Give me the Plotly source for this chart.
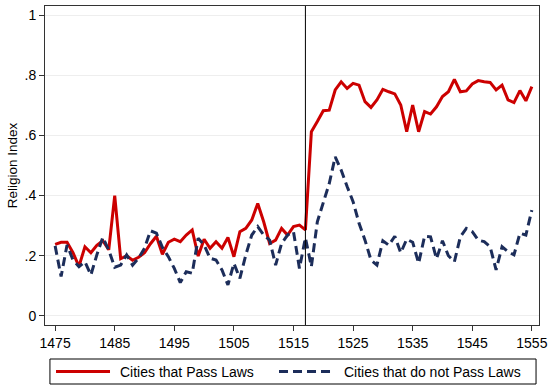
import plotly.graph_objects as go

years = list(range(1475, 1556))

pass_laws = [
    0.238, 0.245, 0.245, 0.21, 0.165, 0.23, 0.21, 0.235, 0.25, 0.22,
    0.40, 0.19, 0.20, 0.185, 0.195, 0.21, 0.24, 0.265, 0.205, 0.245,
    0.255, 0.247, 0.269, 0.286, 0.199, 0.255, 0.225, 0.247, 0.225, 0.261,
    0.197, 0.28, 0.291, 0.319, 0.374, 0.313, 0.241, 0.252, 0.291, 0.269,
    0.297, 0.302, 0.286, 0.612, 0.646, 0.682, 0.684, 0.751, 0.778, 0.756,
    0.773, 0.767, 0.712, 0.693, 0.718, 0.753, 0.745, 0.738, 0.701, 0.612,
    0.701, 0.612, 0.679, 0.671, 0.695, 0.729, 0.745, 0.786, 0.745, 0.748,
    0.771, 0.782, 0.778, 0.776, 0.751, 0.767, 0.718, 0.709, 0.749, 0.715,
    0.762,
]

no_pass_laws = [
    0.233, 0.131, 0.236, 0.186, 0.164, 0.18, 0.136, 0.203, 0.261, 0.219,
    0.162, 0.169, 0.203, 0.169, 0.192, 0.225, 0.283, 0.275, 0.228, 0.197,
    0.158, 0.111, 0.147, 0.142, 0.258, 0.236, 0.192, 0.186, 0.153, 0.103,
    0.175, 0.125, 0.203, 0.269, 0.297, 0.269, 0.252, 0.169, 0.241, 0.269,
    0.28, 0.158, 0.26, 0.164, 0.313, 0.38, 0.44, 0.529, 0.485, 0.43,
    0.38, 0.308, 0.252, 0.186, 0.169, 0.25, 0.235, 0.265, 0.21, 0.255,
    0.245, 0.175, 0.265, 0.263, 0.19, 0.25, 0.20, 0.18, 0.263, 0.291,
    0.28, 0.252, 0.247, 0.23, 0.153, 0.23, 0.214, 0.203, 0.275, 0.269,
    0.352,
]

x_ticks = list(range(1475, 1556, 10))
y_ticks = [0, 0.2, 0.4, 0.6, 0.8, 1]
y_tick_labels = ["0", ".2", ".4", ".6", ".8", "1"]
event_year = 1517
series_names = ["Cities that Pass Laws", "Cities that do not Pass Laws"]

RED = "#cc0000"
NAVY = "#1c2d5a"
DASH = "9px,5px"

fig = go.Figure()
fig.add_trace(go.Scatter(x=years, y=pass_laws, mode="lines",
                         name=series_names[0], showlegend=False,
                         line=dict(color=RED, width=3)))
fig.add_trace(go.Scatter(x=years, y=no_pass_laws, mode="lines",
                         name=series_names[1], showlegend=False,
                         line=dict(color=NAVY, width=3, dash=DASH)))

fig.add_vline(x=event_year, line=dict(color="black", width=1))

font = dict(family="Liberation Sans, Arial, sans-serif", size=14, color="#000000")
title_font = dict(family="Liberation Sans, Arial, sans-serif", size=13.5, color="#000000")

# Legend drawn below the plot (paper coordinates)
leg_y0, leg_y1 = -0.185, -0.1066
leg_yc = (leg_y0 + leg_y1) / 2
fig.add_shape(type="rect", xref="paper", yref="paper", x0=0.010, x1=0.994,
              y0=leg_y0, y1=leg_y1, line=dict(color="#000000", width=1),
              fillcolor="white", layer="above")
fig.add_shape(type="line", xref="paper", yref="paper", x0=0.0223, x1=0.1316,
              y0=leg_yc, y1=leg_yc, line=dict(color=RED, width=3))
fig.add_shape(type="line", xref="paper", yref="paper", x0=0.4737, x1=0.583,
              y0=leg_yc, y1=leg_yc, line=dict(color=NAVY, width=3, dash=DASH))
fig.add_annotation(xref="paper", yref="paper", x=0.1478, y=leg_yc,
                   xanchor="left", yanchor="middle", showarrow=False,
                   text=series_names[0], font=font)
fig.add_annotation(xref="paper", yref="paper", x=0.601, y=leg_yc,
                   xanchor="left", yanchor="middle", showarrow=False,
                   text=series_names[1], font=font)

fig.update_layout(
    width=550, height=391,
    margin=dict(l=45, r=11, t=6, b=66, autoexpand=False),
    paper_bgcolor="white", plot_bgcolor="white",
    font=font,
    showlegend=False,
    xaxis=dict(range=[1473.3, 1556.2], tickvals=x_ticks, ticks="outside",
               ticklen=5, tickcolor="#333333", showgrid=False, zeroline=False,
               showline=True, linecolor="#333333", linewidth=1, mirror=True,
               tickfont=font, automargin=False),
    yaxis=dict(range=[-0.03, 1.03], tickvals=y_ticks, ticktext=y_tick_labels,
               ticks="outside", ticklen=5, tickcolor="#333333",
               showgrid=True, gridcolor="#eeeeee", gridwidth=1, zeroline=False,
               showline=True, linecolor="#333333", linewidth=1, mirror=True,
               title=dict(text="Religion Index", standoff=3, font=title_font),
               tickfont=font, automargin=False),
)

fig.write_html("out.html", config={"displayModeBar": False},
               post_script="document.body.style.margin='0';document.body.style.padding='0';")
